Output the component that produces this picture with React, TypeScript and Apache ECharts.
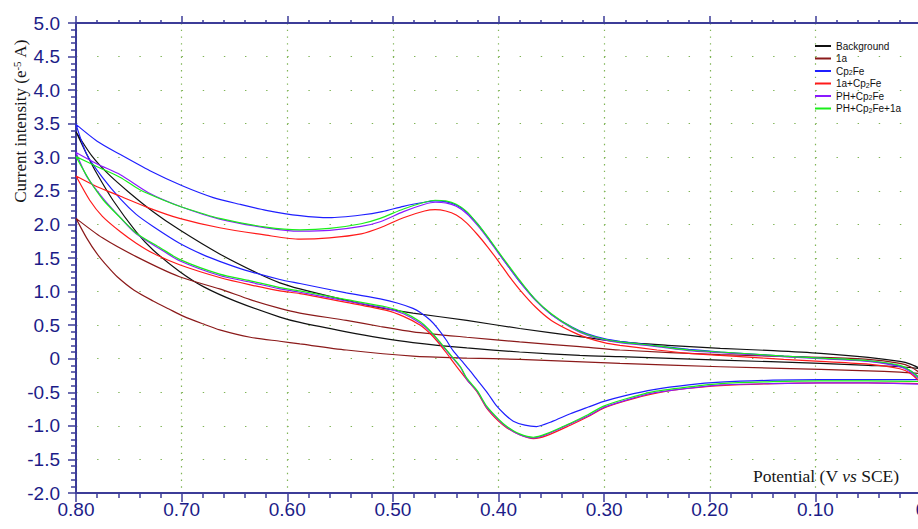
import React, { useEffect, useRef } from "react";
import * as echarts from "echarts";

// ---- data (potential V, current 1e-5 A) ----
const seriesNames = ["Background", "1a", "Cp2Fe", "1a+Cp2Fe", "PH+Cp2Fe", "PH+Cp2Fe+1a"];

const background: [number, number][] = [
  [0, -0.15], [0.01, -0.08], [0.02, -0.04], [0.05, 0.02], [0.095, 0.08], [0.14, 0.12], [0.19, 0.155],
  [0.24, 0.2], [0.285, 0.25], [0.323, 0.33], [0.38, 0.45], [0.43, 0.57], [0.481, 0.68], [0.512, 0.76],
  [0.544, 0.87], [0.588, 1.04], [0.607, 1.13], [0.629, 1.28], [0.664, 1.56], [0.702, 1.92], [0.727, 2.19],
  [0.75, 2.48], [0.77, 2.76], [0.785, 3.02], [0.8, 3.38],
  [0.79, 3.05], [0.78, 2.75], [0.765, 2.36], [0.743, 1.89], [0.727, 1.62], [0.702, 1.3], [0.679, 1.07],
  [0.648, 0.85], [0.607, 0.62], [0.588, 0.54], [0.544, 0.4], [0.512, 0.31], [0.481, 0.24], [0.43, 0.16],
  [0.38, 0.1], [0.323, 0.05], [0.285, 0.03], [0.19, -0.02], [0.095, -0.07], [0.05, -0.1], [0.02, -0.12], [0, -0.15],
];

const compound1a: [number, number][] = [
  [0, -0.22], [0.01, -0.12], [0.02, -0.07], [0.05, -0.01], [0.095, 0.02], [0.19, 0.06], [0.285, 0.13],
  [0.323, 0.18], [0.38, 0.25], [0.43, 0.32], [0.481, 0.4], [0.512, 0.48], [0.544, 0.57], [0.588, 0.68],
  [0.607, 0.75], [0.635, 0.88], [0.664, 1.04], [0.702, 1.22], [0.743, 1.52], [0.775, 1.8], [0.8, 2.09],
  [0.79, 1.8], [0.78, 1.56], [0.77, 1.37], [0.761, 1.22], [0.745, 1.02], [0.727, 0.86], [0.712, 0.74],
  [0.698, 0.63], [0.68, 0.52], [0.664, 0.43], [0.635, 0.32], [0.607, 0.26], [0.588, 0.22], [0.544, 0.13],
  [0.481, 0.04], [0.43, 0.01], [0.38, -0.01], [0.285, -0.07], [0.19, -0.12], [0.095, -0.16], [0.05, -0.18],
  [0.02, -0.2], [0, -0.22],
];

const cp2fe: [number, number][] = [
  [0, -0.3], [0.01, -0.18], [0.02, -0.11], [0.04, -0.05], [0.06, -0.02], [0.095, 0.01], [0.13, 0.04],
  [0.16, 0.07], [0.19, 0.1], [0.22, 0.14], [0.25, 0.19], [0.285, 0.26], [0.3, 0.3], [0.316, 0.37],
  [0.33, 0.47], [0.35, 0.66], [0.365, 0.88], [0.38, 1.15], [0.39, 1.36], [0.4, 1.58], [0.41, 1.8],
  [0.42, 2.01], [0.43, 2.18], [0.44, 2.29], [0.45, 2.34], [0.46, 2.35], [0.47, 2.33], [0.49, 2.27],
  [0.51, 2.19], [0.53, 2.14], [0.56, 2.1], [0.588, 2.13], [0.62, 2.21], [0.645, 2.3], [0.67, 2.4],
  [0.7, 2.58], [0.73, 2.8], [0.758, 3.04], [0.78, 3.24], [0.8, 3.49],
  [0.79, 3.05], [0.775, 2.7], [0.758, 2.38], [0.743, 2.15], [0.727, 1.97], [0.702, 1.72], [0.68, 1.55],
  [0.664, 1.45], [0.64, 1.32], [0.607, 1.18], [0.588, 1.12], [0.544, 0.98], [0.512, 0.89], [0.496, 0.83],
  [0.481, 0.75], [0.474, 0.69], [0.465, 0.58], [0.458, 0.46], [0.45, 0.29], [0.443, 0.12], [0.435, -0.03],
  [0.428, -0.16], [0.42, -0.32], [0.41, -0.52], [0.402, -0.7], [0.394, -0.83], [0.386, -0.93], [0.375, -0.99],
  [0.364, -1.01], [0.35, -0.94], [0.332, -0.82], [0.315, -0.72], [0.301, -0.64], [0.28, -0.55], [0.253, -0.46],
  [0.22, -0.39], [0.19, -0.35], [0.14, -0.32], [0.095, -0.31], [0.05, -0.31], [0.02, -0.31], [0, -0.31],
];

const cp2fe1a: [number, number][] = [
  [0, -0.36], [0.01, -0.22], [0.02, -0.15], [0.05, -0.08], [0.095, -0.04], [0.13, -0.01], [0.16, 0.02],
  [0.19, 0.05], [0.22, 0.08], [0.25, 0.13], [0.285, 0.2], [0.3, 0.24], [0.316, 0.31], [0.33, 0.4],
  [0.35, 0.57], [0.365, 0.77], [0.38, 1.03], [0.39, 1.23], [0.4, 1.45], [0.41, 1.66], [0.42, 1.85],
  [0.43, 2.02], [0.44, 2.14], [0.45, 2.2], [0.46, 2.22], [0.47, 2.2], [0.49, 2.1], [0.512, 1.95],
  [0.53, 1.86], [0.56, 1.8], [0.588, 1.78], [0.62, 1.84], [0.664, 1.95], [0.702, 2.09], [0.73, 2.24],
  [0.758, 2.42], [0.78, 2.56], [0.8, 2.72],
  [0.787, 2.36], [0.775, 2.12], [0.758, 1.89], [0.743, 1.72], [0.727, 1.57], [0.702, 1.4], [0.664, 1.21],
  [0.635, 1.1], [0.607, 1.01], [0.588, 0.97], [0.544, 0.84], [0.506, 0.72], [0.49, 0.63], [0.474, 0.5],
  [0.465, 0.38], [0.458, 0.26], [0.45, 0.1], [0.44, -0.11], [0.43, -0.31], [0.42, -0.5], [0.411, -0.74],
  [0.4, -0.93], [0.392, -1.03], [0.38, -1.13], [0.367, -1.19], [0.355, -1.15], [0.332, -0.99], [0.315, -0.86],
  [0.301, -0.74], [0.28, -0.63], [0.253, -0.52], [0.22, -0.44], [0.19, -0.4], [0.14, -0.37], [0.095, -0.36],
  [0.05, -0.36], [0, -0.37],
];

const phCp2fe: [number, number][] = [
  [0, -0.33], [0.01, -0.2], [0.02, -0.12], [0.05, -0.04], [0.095, 0.0], [0.13, 0.03], [0.16, 0.06],
  [0.19, 0.09], [0.22, 0.12], [0.25, 0.18], [0.285, 0.24], [0.3, 0.28], [0.316, 0.35], [0.33, 0.45],
  [0.35, 0.66], [0.365, 0.87], [0.38, 1.15], [0.39, 1.36], [0.4, 1.57], [0.41, 1.79], [0.42, 1.99],
  [0.43, 2.16], [0.44, 2.27], [0.45, 2.32], [0.46, 2.33], [0.47, 2.3], [0.49, 2.19], [0.512, 2.04],
  [0.53, 1.97], [0.56, 1.91], [0.588, 1.9], [0.62, 1.95], [0.664, 2.08], [0.7, 2.26], [0.73, 2.46],
  [0.758, 2.74], [0.78, 2.9], [0.8, 3.07],
  [0.79, 2.72], [0.774, 2.38], [0.758, 2.1], [0.743, 1.86], [0.72, 1.63], [0.702, 1.46], [0.664, 1.24],
  [0.635, 1.14], [0.607, 1.04], [0.588, 0.99], [0.544, 0.86], [0.506, 0.75], [0.49, 0.67], [0.474, 0.53],
  [0.465, 0.41], [0.455, 0.23], [0.445, 0.04], [0.436, -0.13], [0.43, -0.31], [0.42, -0.49], [0.411, -0.73],
  [0.4, -0.91], [0.392, -1.02], [0.38, -1.13], [0.367, -1.18], [0.355, -1.13], [0.332, -0.97], [0.315, -0.85],
  [0.301, -0.73], [0.28, -0.62], [0.253, -0.51], [0.22, -0.44], [0.19, -0.39], [0.14, -0.37], [0.095, -0.36],
  [0.05, -0.36], [0, -0.38],
];

const phCp2fe1a: [number, number][] = [
  [0, -0.31], [0.01, -0.18], [0.02, -0.1], [0.05, -0.03], [0.095, 0.01], [0.13, 0.04], [0.16, 0.07],
  [0.19, 0.1], [0.22, 0.13], [0.25, 0.19], [0.285, 0.25], [0.3, 0.29], [0.316, 0.36], [0.33, 0.46],
  [0.35, 0.67], [0.365, 0.88], [0.38, 1.17], [0.39, 1.38], [0.4, 1.59], [0.41, 1.81], [0.42, 2.01],
  [0.43, 2.19], [0.44, 2.3], [0.45, 2.35], [0.46, 2.36], [0.47, 2.33], [0.49, 2.23], [0.512, 2.09],
  [0.53, 2.01], [0.56, 1.94], [0.588, 1.92], [0.62, 1.96], [0.664, 2.09], [0.7, 2.26], [0.717, 2.36],
  [0.74, 2.52], [0.758, 2.7], [0.78, 2.86], [0.8, 3.01],
  [0.787, 2.65], [0.774, 2.36], [0.758, 2.1], [0.743, 1.87], [0.72, 1.65], [0.702, 1.48], [0.664, 1.26],
  [0.635, 1.16], [0.607, 1.06], [0.588, 1.01], [0.544, 0.88], [0.506, 0.77], [0.49, 0.69], [0.474, 0.55],
  [0.465, 0.42], [0.455, 0.24], [0.445, 0.05], [0.436, -0.12], [0.43, -0.29], [0.42, -0.48], [0.411, -0.71],
  [0.4, -0.9], [0.392, -1.01], [0.38, -1.12], [0.367, -1.17], [0.355, -1.12], [0.332, -0.96], [0.315, -0.83],
  [0.301, -0.71], [0.28, -0.6], [0.253, -0.49], [0.22, -0.42], [0.19, -0.37], [0.14, -0.34], [0.095, -0.33],
  [0.05, -0.33], [0, -0.34],
];

const allCurves = [background, compound1a, cp2fe, cp2fe1a, phCp2fe, phCp2fe1a];

// ---- styles ----
const seriesColors = ["#111111", "#8B1A1A", "#1f1fff", "#ff1a1a", "#8a1aff", "#1aee1a"];
const AXIS_COLOR = "#3c3c98";
const LABEL_COLOR = "#1c1c88";
const GRID_DOT = "#7fb455";
const SANS = "'Liberation Sans', Arial, sans-serif";
const SERIF = "'Liberation Serif', 'Times New Roman', serif";

function buildOption(): any {
  return {
    animation: false,
    backgroundColor: "#ffffff",
    grid: { left: 76, top: 23, right: -3, bottom: 36, containLabel: false, outerBoundsMode: "none" },
    legend: {
      orient: "vertical",
      left: 815,
      top: 41,
      padding: 0,
      itemWidth: 16,
      itemHeight: 2,
      itemGap: 2.5,
      icon: "rect",
      data: seriesNames,
      formatter: (name: string) => name.replace("Cp2Fe", "Cp{sub|2}Fe"),
      textStyle: {
        fontFamily: SANS,
        fontSize: 10,
        lineHeight: 10,
        color: "#111",
        rich: {
          sub: { fontFamily: SANS, fontSize: 7, verticalAlign: "bottom", lineHeight: 10, color: "#111" },
        },
      },
    },
    xAxis: [
      {
        type: "value",
        inverse: true,
        min: 0,
        max: 0.8,
        interval: 0.1,
        position: "bottom",
        axisLine: { show: true, onZero: false, lineStyle: { color: AXIS_COLOR, width: 2 } },
        axisTick: { show: true, inside: false, length: 9, lineStyle: { color: AXIS_COLOR, width: 1.5 } },
        minorTick: { show: true, splitNumber: 5, length: 5, lineStyle: { color: AXIS_COLOR, width: 1.5 } },
        axisLabel: {
          show: true,
          margin: 7,
          fontFamily: SANS,
          fontSize: 19,
          color: LABEL_COLOR,
          showMinLabel: true,
          showMaxLabel: true,
          hideOverlap: false,
          formatter: (v: number) => (Math.abs(v) < 1e-9 ? "0" : v.toFixed(2)),
        },
        splitLine: { show: true, lineStyle: { color: GRID_DOT, width: 1.2, type: [1.4, 5.314] } },
      },
      {
        type: "value",
        inverse: true,
        min: 0,
        max: 0.8,
        interval: 0.1,
        position: "top",
        axisLine: { show: true, onZero: false, lineStyle: { color: AXIS_COLOR, width: 2 } },
        axisTick: { show: true, inside: false, length: 7, lineStyle: { color: AXIS_COLOR, width: 1.5 } },
        minorTick: { show: true, splitNumber: 5, length: 3, lineStyle: { color: AXIS_COLOR, width: 1.5 } },
        axisLabel: { show: false },
        splitLine: { show: false },
      },
    ],
    yAxis: {
      type: "value",
      min: -2,
      max: 5,
      interval: 0.5,
      axisLine: { show: true, onZero: false, lineStyle: { color: AXIS_COLOR, width: 2 } },
      axisTick: { show: true, inside: false, length: 8, lineStyle: { color: AXIS_COLOR, width: 1.5 } },
      minorTick: { show: true, splitNumber: 5, length: 5, lineStyle: { color: AXIS_COLOR, width: 1.5 } },
      axisLabel: {
        show: true,
        margin: 16,
        fontFamily: SANS,
        fontSize: 19,
        color: LABEL_COLOR,
        formatter: (v: number) => (Math.abs(v) < 1e-9 ? "0" : v.toFixed(1)),
      },
      splitLine: { show: true, lineStyle: { color: GRID_DOT, width: 1.2, type: [1.4, 19.725] } },
    },
    series: seriesNames.map((name, i) => ({
      name,
      type: "line",
      xAxisIndex: 0,
      data: allCurves[i],
      showSymbol: false,
      symbol: "none",
      smooth: 0.25,
      lineStyle: { color: seriesColors[i], width: 1.2 },
      itemStyle: { color: seriesColors[i] },
      emphasis: { disabled: true },
      z: 3 + i,
    })),
    graphic: [
      {
        type: "text",
        x: 20,
        y: 121,
        rotation: Math.PI / 2,
        style: {
          text: "Current intensity (e{sup|-5} A)",
          fontFamily: SERIF,
          fontSize: 17,
          fill: "#161616",
          align: "center",
          verticalAlign: "middle",
          rich: {
            sup: { fontFamily: SERIF, fontSize: 11, verticalAlign: "top", fill: "#161616" },
          },
        },
      },
      {
        type: "text",
        x: 826,
        y: 476,
        style: {
          text: "Potential (V {it|vs} SCE)",
          fontFamily: SERIF,
          fontSize: 17.5,
          fill: "#161616",
          align: "center",
          verticalAlign: "middle",
          rich: {
            it: { fontFamily: SERIF, fontSize: 17.5, fontStyle: "italic", fill: "#161616" },
          },
        },
      },
    ],
  };
}

export default function App() {
  const ref = useRef<HTMLDivElement>(null);
  useEffect(() => {
    if (!ref.current) return;
    const chart = echarts.init(ref.current, null, { renderer: "svg" });
    chart.setOption(buildOption());
    return () => chart.dispose();
  }, []);
  return (
    <div
      ref={ref}
      style={{ position: "fixed", left: 0, top: 0, width: 918, height: 529, background: "#fff" }}
    />
  );
}
